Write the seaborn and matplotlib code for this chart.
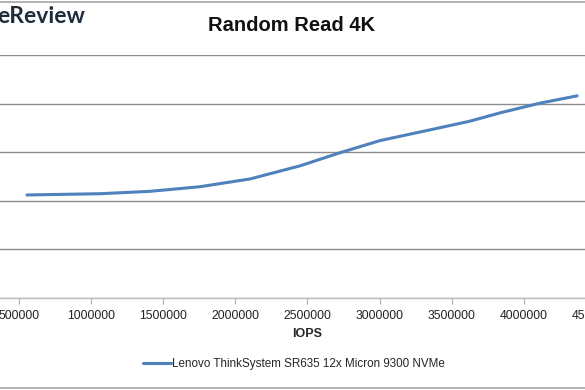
import pandas as pd
import seaborn as sns
import matplotlib.pyplot as plt
from matplotlib.patches import Rectangle

# Values (latency in ms vs IOPS)
iops = [555000, 1062000, 1408000, 1755000, 2102000, 2449000, 2726000,
        3004000, 3350000, 3628000, 3836000, 4113000, 4370000]
latency = [0.212, 0.2146, 0.2195, 0.229, 0.245, 0.272, 0.299,
           0.324, 0.346, 0.364, 0.381, 0.401, 0.416]
series_name = 'Lenovo ThinkSystem SR635 12x Micron 9300 NVMe'
x_ticks = [0, 500000, 1000000, 1500000, 2000000, 2500000, 3000000,
           3500000, 4000000, 4500000, 5000000]
y_ticks = [0, 0.1, 0.2, 0.3, 0.4, 0.5]

df = pd.DataFrame({'IOPS': iops, 'Latency': latency})

sns.set_style('white')
plt.rcParams['font.family'] = ['Liberation Sans', 'DejaVu Sans']

fig = plt.figure(figsize=(5.85, 3.9), dpi=100)
# plot area is wider than the picture: the reference is cropped at both sides
ax = fig.add_axes([-0.0908, 0.2359, 1.2327, 0.623])

sns.lineplot(data=df, x='IOPS', y='Latency', ax=ax, color='#4f81bd',
             linewidth=2.2, legend=False)

ax.set_xlim(0, 5000000)
ax.set_ylim(0, 0.5)
ax.set_xticks(x_ticks)
ax.set_xticklabels([str(t) for t in x_ticks], fontsize=8.7, color='#222222')
ax.set_yticks(y_ticks)
ax.tick_params(axis='y', left=False, labelleft=False)
ax.tick_params(axis='x', bottom=True, length=4, color='#b0b0b0', pad=5)
ax.grid(axis='y', color='#8c8c8c', linewidth=1)
ax.set_axisbelow(True)
for side in ['top', 'left', 'right']:
    ax.spines[side].set_visible(False)
ax.spines['bottom'].set_color('#bfbfbf')
ax.spines['bottom'].set_linewidth(1)
ax.set_xlabel('IOPS', fontsize=9, fontweight='bold', labelpad=4)
ax.set_ylabel('')

fig.text(0.499, 0.935, 'Random Read 4K', ha='center', va='center',
         fontsize=14.5, fontweight='bold', color='#111111')
fig.text(-0.004, 0.958, 'eReview', ha='left', va='center',
         fontsize=16.5, fontweight='bold', color='#1d2d3c',
         family=['Lato', 'DejaVu Sans'])

handle = plt.Line2D([], [], color='#4f81bd', linewidth=2.2)
fig.legend([handle], [series_name], loc='center', bbox_to_anchor=(0.503, 0.067),
           frameon=False, fontsize=8.4, handlelength=2.4, handletextpad=0.1)

# chart area border (top and bottom visible in the crop)
fig.add_artist(Rectangle((-0.01, 0.004), 1.02, 0.992, transform=fig.transFigure,
                         fill=False, edgecolor='#a6a6a6', linewidth=1.2))

fig.savefig('out.png', dpi=100)
